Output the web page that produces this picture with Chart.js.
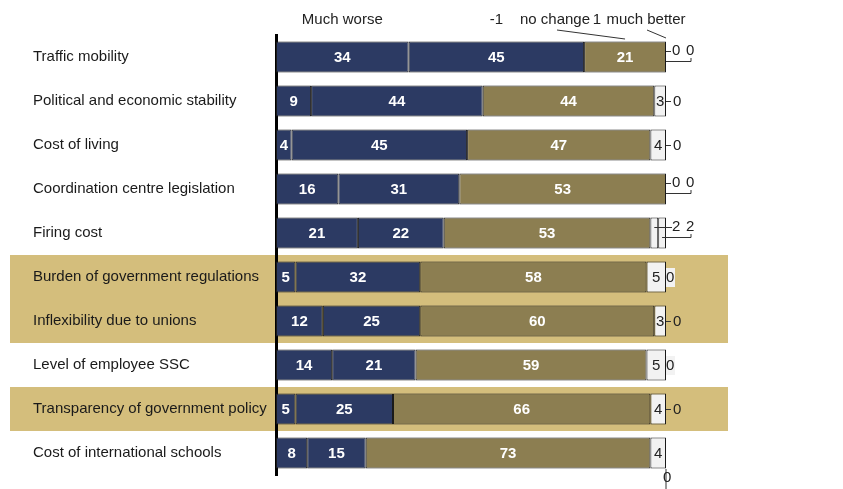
<!DOCTYPE html>
<html>
<head>
<meta charset="utf-8">
<script src="https://cdn.jsdelivr.net/npm/chart.js@4/dist/chart.umd.min.js"></script>
<style>
    html, body { margin: 0; padding: 0; background: #fff; }
    #wrap { width: 843px; height: 489px; position: relative; }
</style>
</head>
<body>
<div id="wrap"><canvas id="factorChart"></canvas></div>
<script>
const categories = [
    "Traffic mobility",
    "Political and economic stability",
    "Cost of living",
    "Coordination centre legislation",
    "Firing cost",
    "Burden of government regulations",
    "Inflexibility due to unions",
    "Level of employee SSC",
    "Transparency of government policy",
    "Cost of international schools"
];

const seriesNames = ["Much worse", "-1", "no change", "1", "much better"];

// shares in percent; the labels show them rounded
const muchWorse = [34, 9, 4, 16, 21, 5, 12, 14.4, 5, 8];
const minusOne = [45, 44, 45, 31, 22, 32, 25, 21.4, 25, 15];
const noChange = [21, 44, 47, 53, 53, 58, 60, 59.2, 66, 73];
const plusOne = [0, 3, 4, 0, 2, 5, 3, 5, 4, 4];
const muchBetter = [0, 0, 0, 0, 2, 0, 0, 0, 0, 0];

const highlighted = [
    "Burden of government regulations",
    "Inflexibility due to unions",
    "Transparency of government policy"
];

const NAVY = "#2c3a63";
const OLIVE = "#8c7e51";
const PALE = "#f2f2f2";
const TAN = "#d4be7c";
const FONT = "'Liberation Sans', Arial, sans-serif";

const chartCanvas = document.getElementById("factorChart");

function makeSet(label, data, color) {
    return {
        label,
        data,
        backgroundColor: color,
        borderColor: "#1a1a1a",
        borderWidth: 1,
        borderSkipped: false,
        barPercentage: 0.7,
        categoryPercentage: 1
    };
}

const rowBands = {
    id: "rowBands",
    beforeDraw(chart) {
        const { ctx } = chart;
        const y = chart.scales.y;
        const half = (y.getPixelForValue(1) - y.getPixelForValue(0)) / 2;
        ctx.save();
        ctx.fillStyle = TAN;
        categories.forEach((name, i) => {
            if (!highlighted.includes(name)) return;
            const cy = y.getPixelForValue(i);
            ctx.fillRect(10, cy - half, 718, half * 2);
        });
        ctx.restore();
    }
};

const segmentLabels = {
    id: "segmentLabels",
    afterDatasetsDraw(chart) {
        const { ctx } = chart;
        const x = chart.scales.x;
        const end = x.getPixelForValue(100);
        const last = categories.length - 1;

        ctx.save();
        ctx.textBaseline = "middle";

        // white figures inside the coloured parts
        ctx.font = `bold 15px ${FONT}`;
        ctx.fillStyle = "#fff";
        ctx.textAlign = "center";
        [0, 1, 2].forEach(d => {
            chart.getDatasetMeta(d).data.forEach((bar, i) => {
                const v = chart.data.datasets[d].data[i];
                if (v > 0) ctx.fillText(String(Math.round(v)), bar.x - (bar.x - bar.base) / 2, bar.y + 1);
            });
        });

        ctx.font = `15px ${FONT}`;
        ctx.fillStyle = "#222";
        ctx.strokeStyle = "#333";
        ctx.lineWidth = 1;

        const line = pts => {
            ctx.beginPath();
            ctx.moveTo(pts[0][0], pts[0][1]);
            pts.slice(1).forEach(p => ctx.lineTo(p[0], p[1]));
            ctx.stroke();
        };

        const m3 = chart.getDatasetMeta(3).data;
        const m4 = chart.getDatasetMeta(4).data;

        categories.forEach((_, i) => {
            const a = plusOne[i];
            const b = muchBetter[i];
            const cy = m3[i].y;
            ctx.textAlign = "left";

            if (a > 0 && b > 0) {
                const c3 = m3[i].x - (m3[i].x - m3[i].base) / 2;
                const c4 = m4[i].x - (m4[i].x - m4[i].base) / 2;
                line([[c3, cy - 5.5], [end + 6, cy - 5.5]]);
                ctx.fillText(String(a), end + 6, cy - 6);
                line([[c4, cy + 4.5], [end + 25, cy + 4.5], [end + 25, cy + 1]]);
                ctx.fillText(String(b), end + 20, cy - 6);
            } else if (a > 0) {
                const c3 = m3[i].x - (m3[i].x - m3[i].base) / 2;
                ctx.textAlign = "center";
                ctx.fillText(String(a), c3, cy + 1);
                ctx.textAlign = "left";
                if (i === last) {
                    line([[end, cy + 16], [end, cy + 36]]);
                    ctx.fillText(String(b), end - 3, cy + 25);
                } else if (m3[i].x - m3[i].base > 17) {
                    ctx.fillStyle = PALE;
                    ctx.fillRect(end, cy - 9, 9, 19);
                    ctx.fillStyle = "#222";
                    ctx.fillText(String(b), end, cy + 1);
                } else {
                    line([[end, cy + 0.5], [end + 5, cy + 0.5]]);
                    ctx.fillText(String(b), end + 7, cy + 1);
                }
            } else {
                line([[end, cy - 5.5], [end + 5, cy - 5.5]]);
                ctx.fillText(String(a), end + 6, cy - 6);
                line([[end, cy + 4.5], [end + 25, cy + 4.5], [end + 25, cy + 1]]);
                ctx.fillText(String(b), end + 20, cy - 6);
            }
        });

        // series names above the first row
        const top = 20;
        ctx.textAlign = "center";
        [0, 1].forEach(d => {
            const bar = chart.getDatasetMeta(d).data[0];
            ctx.fillText(seriesNames[d], bar.x - (bar.x - bar.base) / 2, top);
        });
        const olive = chart.getDatasetMeta(2).data[0];
        const oliveMid = olive.x - (olive.x - olive.base) / 2;
        ctx.fillText(seriesNames[2], end - 111, top);
        ctx.fillText(seriesNames[3], end - 69, top);
        ctx.fillText(seriesNames[4], end - 20, top);
        line([[end - 109, 30], [oliveMid, 39]]);
        line([[end - 19, 30], [end, 38]]);

        ctx.restore();
    }
};

const factorChart = new Chart(chartCanvas, {
    type: "bar",

    data: {
        labels: categories,
        datasets: [
            makeSet(seriesNames[0], muchWorse, NAVY),
            makeSet(seriesNames[1], minusOne, NAVY),
            makeSet(seriesNames[2], noChange, OLIVE),
            makeSet(seriesNames[3], plusOne, PALE),
            makeSet(seriesNames[4], muchBetter, PALE)
        ]
    },

    options: {
        indexAxis: "y",
        responsive: true,
        maintainAspectRatio: false,
        animation: false,

        layout: {
            padding: { left: 33, right: 177, top: 35, bottom: 14 }
        },

        plugins: {
            legend: { display: false },
            tooltip: { enabled: false }
        },

        scales: {
            x: {
                stacked: true,
                min: 0,
                max: 100,
                display: false
            },

            y: {
                stacked: true,
                afterFit(scale) {
                    scale.width = 243;
                },
                grid: {
                    display: true,
                    drawOnChartArea: false,
                    drawTicks: false
                },
                border: {
                    display: true,
                    color: "#000",
                    width: 3
                },
                ticks: {
                    crossAlign: "far",
                    color: "#1a1a1a",
                    font: { family: FONT, size: 15 }
                }
            }
        }
    },

    plugins: [rowBands, segmentLabels]
});
</script>
</body>
</html>
